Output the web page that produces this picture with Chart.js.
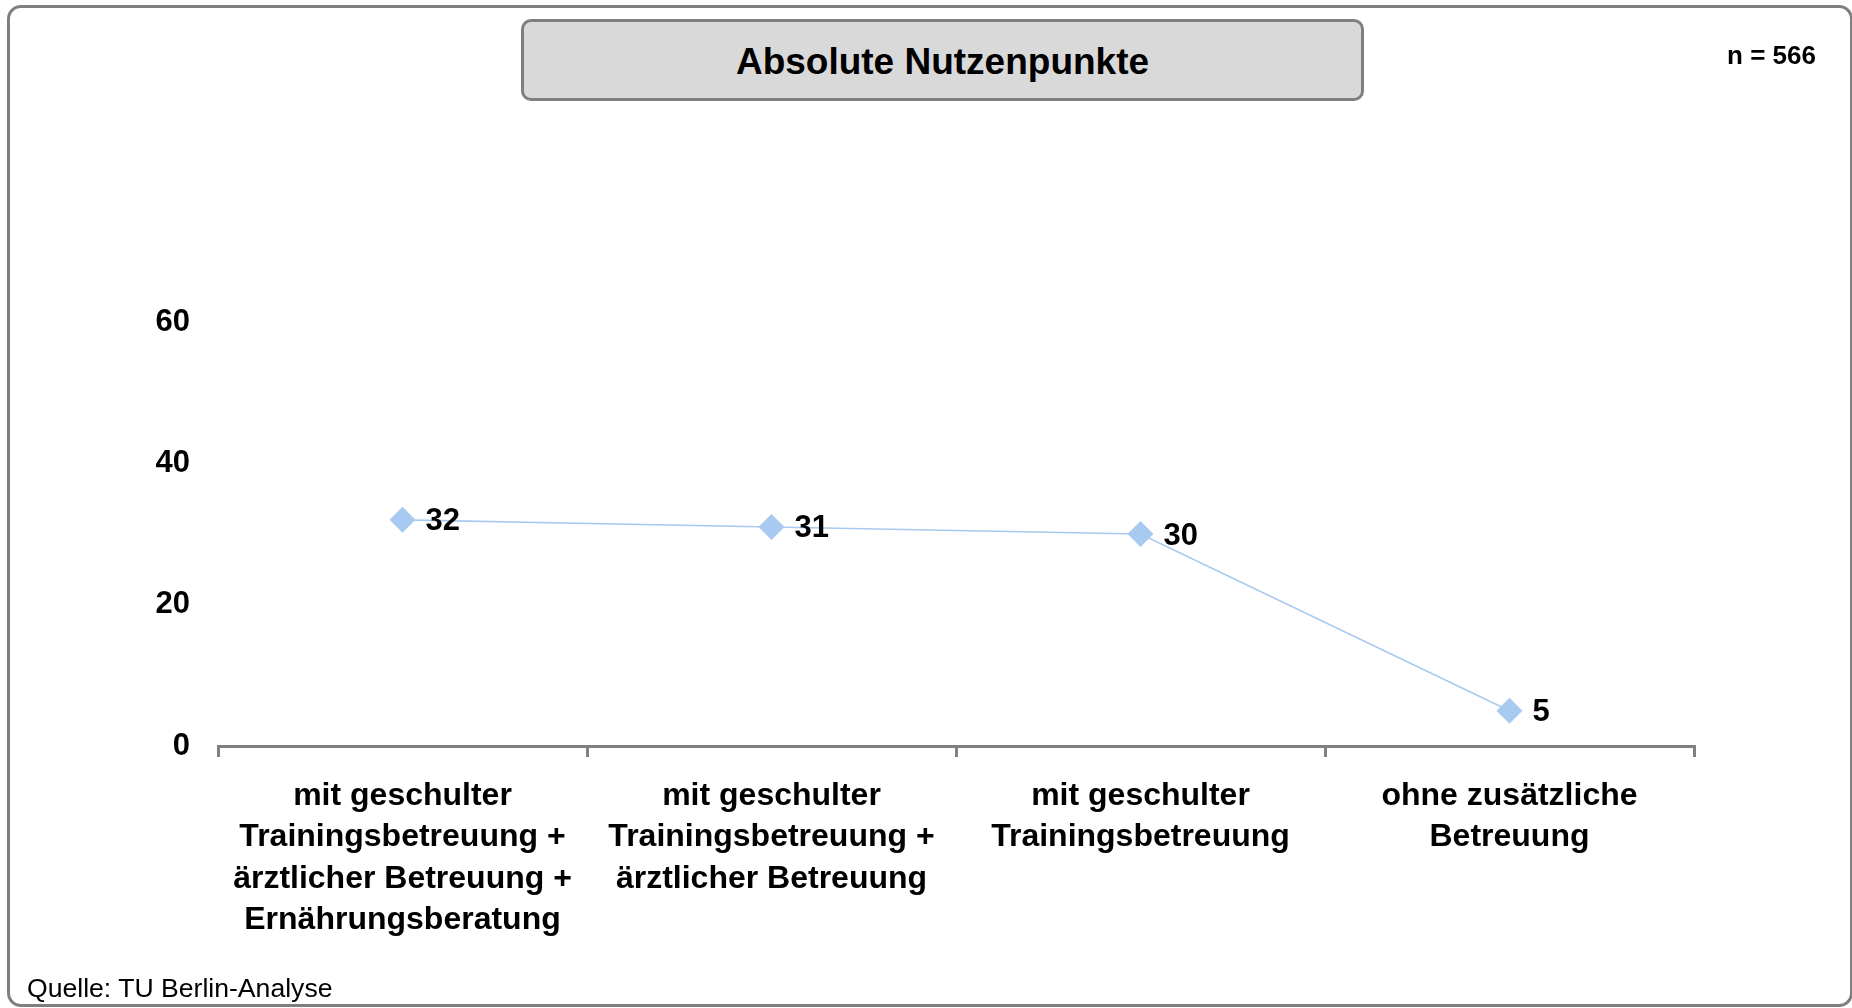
<!DOCTYPE html>
<html lang="de">
<head>
<meta charset="utf-8">
<title>Absolute Nutzenpunkte</title>
<script src="https://cdn.jsdelivr.net/npm/chart.js@4/dist/chart.umd.min.js"></script>
<style>
  html, body { margin: 0; padding: 0; background: #fff; overflow: hidden; }
  body { width: 1852px; height: 1008px; position: relative; font-family: "Liberation Sans", Arial, sans-serif; }
  #frame { position: absolute; left: 7px; top: 5px; width: 1846px; height: 1002px; border: 3px solid #7f7f7f; border-radius: 14px; box-sizing: border-box; }
  #titleBox { position: absolute; left: 521px; top: 19px; width: 843px; height: 82px; box-sizing: border-box; padding-top: 3px;
    background: #d9d9d9; border: 3px solid #7f7f7f; border-radius: 10px;
    display: flex; align-items: center; justify-content: center; font-weight: bold; font-size: 37px; color: #000; }
  #nLabel { position: absolute; right: 36px; top: 40px; font-weight: bold; font-size: 26px; color: #000; }
  #source { position: absolute; left: 27px; top: 973px; font-size: 26.6px; color: #000; }
  canvas { position: absolute; left: 0; top: 0; }
</style>
</head>
<body>
<div id="frame"></div>
<canvas id="chart" width="1852" height="1008"></canvas>
<div id="titleBox">Absolute Nutzenpunkte</div>
<div id="nLabel">n = 566</div>
<div id="source">Quelle: TU Berlin-Analyse</div>

<script>
// categories (multi-line axis labels) and values
const categories = [
  ["mit geschulter", "Trainingsbetreuung +", "ärztlicher Betreuung +", "Ernährungsberatung"],
  ["mit geschulter", "Trainingsbetreuung +", "ärztlicher Betreuung"],
  ["mit geschulter", "Trainingsbetreuung"],
  ["ohne zusätzliche", "Betreuung"]
];
const points = [32, 31, 30, 5];
const yTicks = [0, 20, 40, 60];

const AXIS_GREY = "#808080";
const BLUE = "#a9caf0";
const FONT = "'Liberation Sans', Arial, sans-serif";

// value labels to the right of each marker
const valueLabels = {
  id: "valueLabels",
  afterDatasetsDraw(chart) {
    const ctx = chart.ctx;
    const meta = chart.getDatasetMeta(0);
    ctx.save();
    ctx.font = "bold 31px " + FONT;
    ctx.fillStyle = "#000";
    ctx.textAlign = "left";
    ctx.textBaseline = "middle";
    meta.data.forEach((pt, i) => {
      ctx.fillText(String(points[i]), pt.x + 23, pt.y + 2);
    });
    ctx.restore();
  }
};

new Chart(document.getElementById("chart").getContext("2d"), {
  type: "line",
  data: {
    labels: categories,
    datasets: [{
      data: points,
      borderColor: BLUE,
      borderWidth: 1.6,
      backgroundColor: BLUE,
      pointStyle: "rectRot",
      pointRadius: 13,
      pointBorderWidth: 0,
      pointBackgroundColor: BLUE,
      tension: 0,
      fill: false
    }]
  },
  options: {
    responsive: false,
    animation: false,
    layout: { padding: { left: 118, right: 158, top: 322, bottom: 12 } },
    plugins: { legend: { display: false }, title: { display: false }, tooltip: { enabled: false } },
    scales: {
      x: {
        offset: true,
        afterFit: s => { s.height = 250; },
        grid: { offset: true, drawOnChartArea: false, drawTicks: true, tickLength: 11, color: AXIS_GREY, lineWidth: 3 },
        border: { display: true, color: AXIS_GREY, width: 3 },
        ticks: { color: "#000", padding: 18, maxRotation: 0, autoSkip: false, font: { family: FONT, size: 32, weight: "bold", lineHeight: 1.3 } }
      },
      y: {
        min: 0,
        max: 60,
        afterFit: s => { s.width = 100; },
        afterBuildTicks: s => { s.ticks = yTicks.map(v => ({ value: v })); },
        grid: { display: false, drawTicks: false },
        border: { display: false },
        ticks: { color: "#000", padding: 28, font: { family: FONT, size: 31, weight: "bold" } }
      }
    }
  },
  plugins: [valueLabels]
});
</script>
</body>
</html>
